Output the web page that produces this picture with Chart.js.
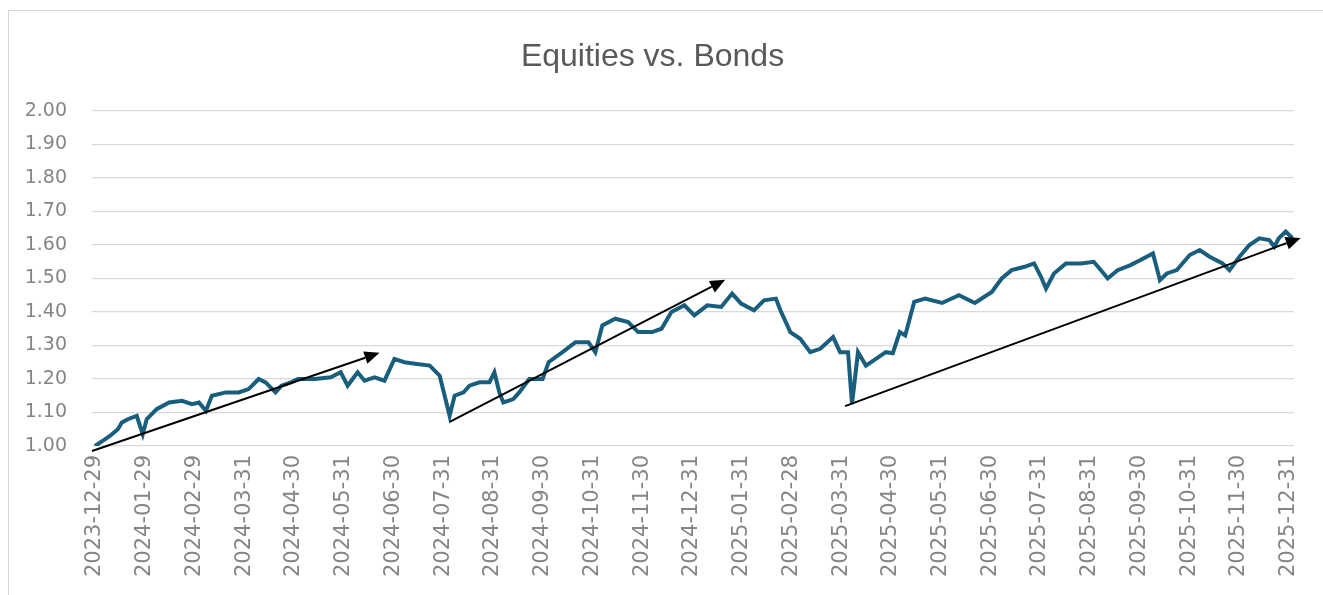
<!DOCTYPE html>
<html>
<head>
<meta charset="utf-8">
<title>Equities vs. Bonds</title>
<script src="https://cdn.jsdelivr.net/npm/chart.js@4/dist/chart.umd.min.js"></script>
<style>
  html, body { margin: 0; padding: 0; background: #fff; }
  #wrap { position: relative; width: 1323px; height: 595px; overflow: hidden; }
  #frame {
    position: absolute; left: 8px; top: 10px; right: -2px; bottom: -2px;
    border: 1px solid #d6d6d6; pointer-events: none;
  }
</style>
</head>
<body>
<div id="wrap">
  <canvas id="chart" width="1323" height="595"></canvas>
  <div id="frame"></div>
</div>
<script>
// tick labels along the bottom, one per month
const xLabels = [
  '2023-12-29', '2024-01-29', '2024-02-29', '2024-03-31', '2024-04-30', '2024-05-31',
  '2024-06-30', '2024-07-31', '2024-08-31', '2024-09-30', '2024-10-31', '2024-11-30',
  '2024-12-31', '2025-01-31', '2025-02-28', '2025-03-31', '2025-04-30', '2025-05-31',
  '2025-06-30', '2025-07-31', '2025-08-31', '2025-09-30', '2025-10-31', '2025-11-30',
  '2025-12-31'
];
const yTicks = [1.0, 1.1, 1.2, 1.3, 1.4, 1.5, 1.6, 1.7, 1.8, 1.9, 2.0];

// position along the axis (in months from the first label) and ratio value
const pos = [
  0.00, 0.10, 0.20, 0.30, 0.46, 0.54, 0.66, 0.84, 0.96, 1.04,
  1.24, 1.49, 1.75, 1.95, 2.09, 2.23, 2.35, 2.63, 2.89, 3.09,
  3.29, 3.43, 3.63, 3.75, 3.94, 4.08, 4.42, 4.74, 4.94, 5.08,
  5.28, 5.42, 5.62, 5.82, 6.02, 6.22, 6.47, 6.73, 6.93, 7.03,
  7.13, 7.23, 7.41, 7.53, 7.73, 7.93, 8.03, 8.13, 8.21, 8.41,
  8.53, 8.73, 9.00, 9.12, 9.40, 9.66, 9.92, 10.06, 10.20, 10.46,
  10.72, 10.92, 11.20, 11.39, 11.59, 11.85, 12.05, 12.31, 12.59, 12.81,
  12.99, 13.25, 13.45, 13.69, 13.78, 13.98, 14.18, 14.38, 14.58, 14.84,
  14.98, 15.14, 15.22, 15.34, 15.50, 15.70, 15.90, 16.04, 16.18, 16.29,
  16.47, 16.69, 17.03, 17.37, 17.69, 18.03, 18.23, 18.43, 18.69, 18.88,
  19.02, 19.12, 19.28, 19.52, 19.82, 20.08, 20.28, 20.36, 20.56, 20.82,
  21.02, 21.27, 21.35, 21.41, 21.55, 21.75, 22.01, 22.21, 22.41, 22.67,
  22.81, 23.01, 23.21, 23.41, 23.61, 23.71, 23.80, 23.94, 24.08
];
const ratio = [
  1.000, 1.010, 1.020, 1.030, 1.050, 1.070, 1.080, 1.090, 1.035, 1.080,
  1.110, 1.130, 1.135, 1.125, 1.130, 1.105, 1.150, 1.160, 1.160, 1.170,
  1.200, 1.190, 1.160, 1.180, 1.190, 1.200, 1.200, 1.205, 1.220, 1.180,
  1.220, 1.195, 1.205, 1.195, 1.260, 1.250, 1.245, 1.240, 1.210, 1.150,
  1.090, 1.150, 1.160, 1.180, 1.190, 1.190, 1.220, 1.160, 1.130, 1.140,
  1.160, 1.200, 1.200, 1.250, 1.280, 1.310, 1.310, 1.280, 1.360, 1.380,
  1.370, 1.340, 1.340, 1.350, 1.400, 1.420, 1.390, 1.420, 1.415, 1.455,
  1.425, 1.405, 1.435, 1.440, 1.405, 1.340, 1.320, 1.280, 1.290, 1.325,
  1.280, 1.280, 1.125, 1.280, 1.240, 1.260, 1.280, 1.277, 1.340, 1.330,
  1.430, 1.440, 1.427, 1.450, 1.427, 1.460, 1.500, 1.525, 1.535, 1.545,
  1.505, 1.470, 1.515, 1.545, 1.545, 1.550, 1.515, 1.500, 1.525, 1.540,
  1.555, 1.575, 1.530, 1.495, 1.515, 1.525, 1.570, 1.585, 1.565, 1.545,
  1.525, 1.565, 1.600, 1.620, 1.615, 1.595, 1.620, 1.640, 1.620
];

// trend arrows drawn over the line: [pos, ratio] of tail and head
const arrowFrom = [[-0.06, 0.985], [7.13, 1.072], [15.08, 1.119]];
const arrowTo   = [[5.72, 1.278], [12.67, 1.496], [24.24, 1.621]];

const points = pos.map((p, i) => ({ x: p, y: ratio[i] }));

const arrowPlugin = {
  id: 'arrows',
  afterDraw(chart) {
    const { ctx, scales: { x, y } } = chart;
    ctx.save();
    ctx.strokeStyle = '#000';
    ctx.fillStyle = '#000';
    ctx.lineWidth = 2;
    arrowFrom.forEach((f, i) => {
      const x0 = x.getPixelForValue(f[0]), y0 = y.getPixelForValue(f[1]);
      const x1 = x.getPixelForValue(arrowTo[i][0]), y1 = y.getPixelForValue(arrowTo[i][1]);
      const a = Math.atan2(y1 - y0, x1 - x0);
      const len = 15, half = 6.5;
      const bx = x1 - len * Math.cos(a), by = y1 - len * Math.sin(a);
      ctx.beginPath();
      ctx.moveTo(x0, y0);
      ctx.lineTo(bx, by);
      ctx.stroke();
      ctx.beginPath();
      ctx.moveTo(x1, y1);
      ctx.lineTo(bx + half * Math.sin(a), by - half * Math.cos(a));
      ctx.lineTo(bx - half * Math.sin(a), by + half * Math.cos(a));
      ctx.closePath();
      ctx.fill();
    });
    ctx.restore();
  }
};

new Chart(document.getElementById('chart'), {
  type: 'line',
  data: {
    datasets: [{
      label: 'Equities vs. Bonds',
      data: points,
      borderColor: '#1a5e7e',
      borderWidth: 4,
      pointRadius: 0,
      tension: 0,
      fill: false
    }]
  },
  options: {
    responsive: false,
    animation: false,
    parsing: false,
    layout: { padding: { left: 0, right: 18, top: 0, bottom: 0 } },
    scales: {
      x: {
        type: 'linear',
        min: -0.06,
        max: 24.1,
        afterBuildTicks: s => { s.ticks = xLabels.map((_, i) => ({ value: i })); },
        afterFit: s => { s.height = 149; },
        grid: { display: false, drawTicks: false },
        border: { display: false },
        ticks: {
          autoSkip: false,
          minRotation: 90,
          maxRotation: 90,
          padding: 9,
          color: '#858585',
          font: { family: 'DejaVu Sans', size: 21 },
          callback: v => xLabels[v] ?? ''
        }
      },
      y: {
        min: 1,
        max: 2,
        afterBuildTicks: s => { s.ticks = yTicks.map(v => ({ value: v })); },
        afterFit: s => { s.width = 92; },
        grid: { color: '#d9d9d9', lineWidth: 1.2, drawTicks: false },
        border: { display: false },
        ticks: {
          padding: 25,
          color: '#858585',
          font: { family: 'DejaVu Sans', size: 19 },
          callback: v => v.toFixed(2)
        }
      }
    },
    plugins: {
      legend: { display: false },
      tooltip: { enabled: false },
      title: {
        display: true,
        text: 'Equities vs. Bonds',
        color: '#595959',
        font: { family: 'Liberation Sans', size: 32, weight: 'normal' },
        padding: { top: 38, bottom: 34.6 }
      }
    }
  },
  plugins: [arrowPlugin]
});
</script>
</body>
</html>
